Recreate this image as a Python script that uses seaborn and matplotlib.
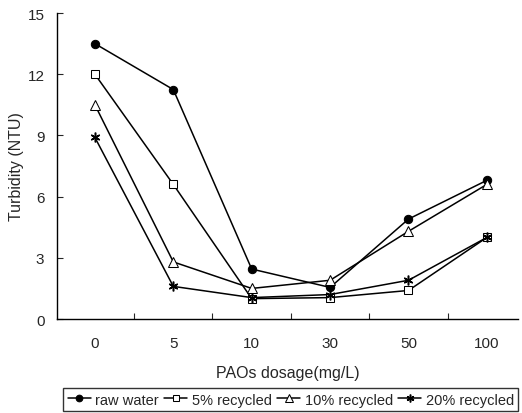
import matplotlib
matplotlib.use("Agg")
import matplotlib.pyplot as plt
import seaborn as sns
import pandas as pd

# PAOs dosage categories (mg/L)
dosage = ["0", "5", "10", "30", "50", "100"]

# turbidity (NTU)
raw_water = [13.5, 11.25, 2.45, 1.55, 4.9, 6.8]
recycled_5 = [12.0, 6.6, 1.0, 1.05, 1.4, 4.0]
recycled_10 = [10.5, 2.8, 1.5, 1.9, 4.3, 6.6]
recycled_20 = [8.9, 1.6, 1.05, 1.2, 1.9, 4.0]

series = ["raw water", "5% recycled", "10% recycled", "20% recycled"]

df = pd.DataFrame({
    "pos": list(range(len(dosage))) * 4,
    "turbidity": raw_water + recycled_5 + recycled_10 + recycled_20,
    "series": [s for s in series for _ in dosage],
})

sns.set_style("ticks")
plt.rcParams["font.family"] = ["Liberation Sans", "DejaVu Sans"]

fig = plt.figure(figsize=(5.22, 4.14), dpi=100)
ax = fig.add_axes([0.109, 0.227, 0.883, 0.739])

styles = {
    "raw water": dict(marker="o", markerfacecolor="black", markersize=6),
    "5% recycled": dict(marker="s", markerfacecolor="white", markersize=5.5),
    "10% recycled": dict(marker="^", markerfacecolor="white", markersize=6.5),
    "20% recycled": dict(marker=(6, 2, 0), markersize=7, markeredgewidth=1.1),
}

for s in series:
    sub = df[df.series == s]
    sns.lineplot(data=sub, x="pos", y="turbidity", ax=ax, color="black",
                 linewidth=1.1, markeredgecolor="black", label=s, **styles[s])

ax.set_xlim(-0.485, 5.395)
ax.set_ylim(0, 15)
ax.set_yticks([0, 3, 6, 9, 12, 15])
ax.set_xticks(range(len(dosage)))
ax.set_xticklabels(dosage)
ax.set_xticks([0.5, 1.5, 2.5, 3.5, 4.5], minor=True)
ax.tick_params(axis="x", which="major", length=0, pad=12, labelsize=11)
ax.tick_params(axis="x", which="minor", direction="in", length=4, width=0.8)
ax.tick_params(axis="y", direction="in", length=4, width=0.8, pad=9, labelsize=11)

for side in ["top", "right"]:
    ax.spines[side].set_visible(False)
for side in ["left", "bottom"]:
    ax.spines[side].set_linewidth(1.0)
    ax.spines[side].set_color("black")

ax.set_xlabel("PAOs dosage(mg/L)", fontsize=11.5, labelpad=11)
ax.set_ylabel("Turbidity (NTU)", fontsize=11.5)
ax.yaxis.set_label_coords(-0.072, 0.5)

handles, labels = ax.get_legend_handles_labels()
ax.get_legend().remove()
leg = fig.legend(handles, labels, loc="lower left", ncol=4,
                 bbox_to_anchor=(0.121, 0.005, 0.872, 0.063), mode="expand",
                 frameon=True, fancybox=False, fontsize=10.5, markerscale=0.8,
                 handlelength=1.6, handletextpad=0.3, columnspacing=0.5,
                 borderpad=0.3, borderaxespad=0)
leg.get_frame().set_edgecolor("black")
leg.get_frame().set_linewidth(1.0)

fig.savefig("out.png", dpi=100)
